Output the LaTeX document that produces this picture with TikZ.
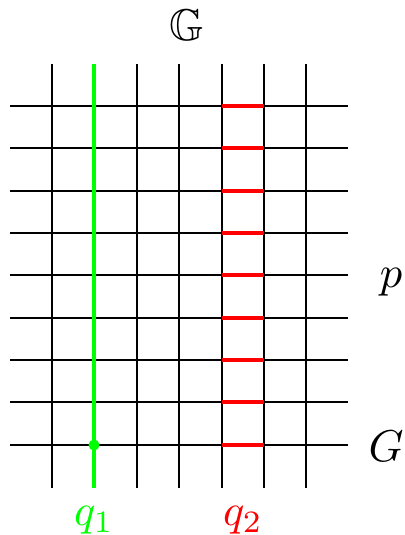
\documentclass[tikz,border=0pt]{standalone}
\usepackage{graphicx}
\usepackage{amssymb}
\definecolor{qgreen}{RGB}{0,255,0}
\definecolor{qred}{RGB}{255,0,0}
\newcommand{\bigtxt}[1]{\scalebox{4.45}{#1}}
\tikzset{
  gridline/.style={black, line width=1.8pt},
  greenline/.style={qgreen, line width=4.6pt},
  redseg/.style={qred, line width=4pt},
  lbl/.style={inner sep=0pt, anchor=base},
}
\begin{document}
\begin{tikzpicture}[x=1pt,y=-1pt]
\useasboundingbox (0,0) rectangle (404,535);
% horizontal lines
\foreach \yy in {106,148,191,233,275,318,360,402,445} {
  \draw[gridline] (10,\yy) -- (348,\yy);
}
% vertical lines
\foreach \xx in {52,94,137,179,222,264,306} {
  \draw[gridline] (\xx,64) -- (\xx,488);
}
% green line q1
\coordinate (gtop) at (94,64);
\coordinate (gbot) at (94,488);
\draw[greenline] (gtop) -- (gbot);
\fill[qgreen] (94,445) circle (5.5);
% red segments q2
\foreach \yy in {106,148,191,233,275,318,360,402,445} {
  \draw[redseg] (222,\yy) -- (264,\yy);
}
% labels
\node[lbl] (GG) at (187,41) {\bigtxt{$\mathbb{G}$}};
\node[lbl] (p) at (391,287) {\bigtxt{$p$}};
\node[lbl] (G) at (386,461) {\bigtxt{$G$}};
\node[lbl, text=qgreen] (q1) at (94,525.5) {\bigtxt{$q_1$}};
\node[lbl, text=qred] (q2) at (243,525.5) {\bigtxt{$q_2$}};
\end{tikzpicture}
\end{document}
